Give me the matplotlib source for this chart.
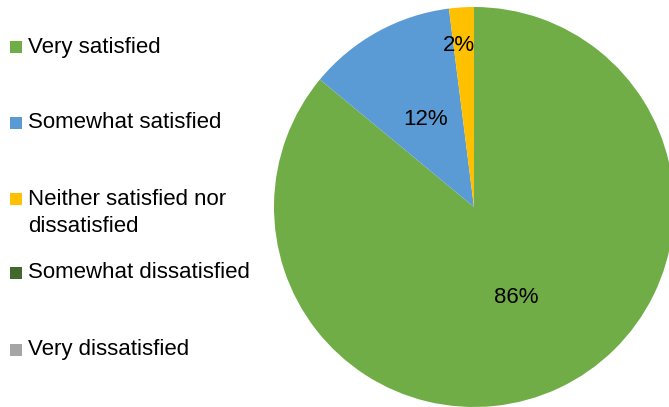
import matplotlib
matplotlib.use("Agg")
import matplotlib.pyplot as plt
from matplotlib.patches import Rectangle
import numpy as np

plt.rcParams['font.family'] = ['Liberation Sans', 'DejaVu Sans']

categories = ["Very satisfied", "Somewhat satisfied", "Neither satisfied nor\ndissatisfied",
              "Somewhat dissatisfied", "Very dissatisfied"]
values = [86, 12, 2, 0, 0]
colors = ["#70AD47", "#5B9BD5", "#FFC000", "#43682B", "#A5A5A5"]

W, H = 669, 407
fig = plt.figure(figsize=(W / 100, H / 100), dpi=100)
ax = fig.add_axes([0, 0, 1, 1])

FS = 16
cx, cy, R = 474, H - 207, 200
wedges, texts, autotexts = ax.pie(
    values, colors=colors, startangle=90, counterclock=False,
    center=(cx, cy), radius=R,
    autopct=lambda p: f"{p:.0f}%" if p >= 0.5 else "",
    pctdistance=0.5, wedgeprops=dict(linewidth=0),
    textprops=dict(fontsize=FS, color="black"))

# small slice label placed further out (like Excel best-fit)
total = sum(values)
start = 90.0
for v, t in zip(values, autotexts):
    frac = v / total
    mid = np.deg2rad(start - frac * 360 / 2)
    if 0 < frac < 0.05:
        t.set_position((cx + 0.82 * R * np.cos(mid) - 5, cy + 0.82 * R * np.sin(mid) - 2))
    start -= frac * 360

ax.set_xlim(0, W)
ax.set_ylim(0, H)
ax.set_aspect('auto')
ax.axis('off')

# legend drawn manually to mimic Excel layout
legend_y = [47, 123, 199, 273, 350]
for lab, col, y in zip(categories, colors, legend_y):
    ax.add_patch(Rectangle((9.5, H - y - 6), 12, 12, facecolor=col, edgecolor='none'))
    nlines = lab.count('\n') + 1
    yc = y + (nlines - 1) * 14
    ax.text(28, H - yc, lab, fontsize=FS, va='center', ha='left', linespacing=1.32)

fig.savefig("out.png", dpi=100)
